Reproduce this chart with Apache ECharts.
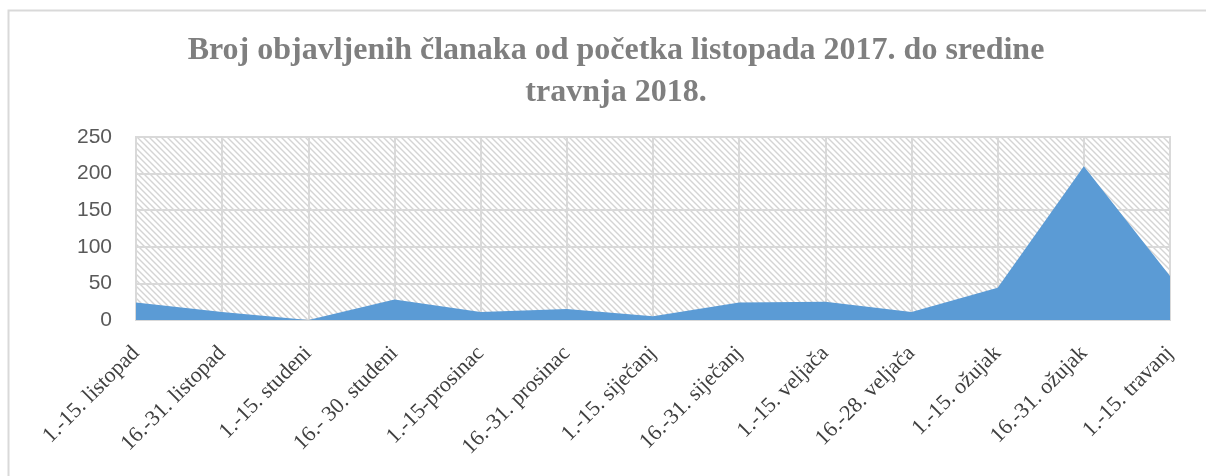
<!DOCTYPE html>
<html lang="hr">
<head>
  <meta charset="UTF-8">
  <title>Broj objavljenih članaka</title>
  <style>
    html, body { margin: 0; padding: 0; background: #fff; }
    #chart { width: 1206px; height: 476px; }
  </style>
</head>
<body>
  <div id="chart"></div>

  <script src="https://cdn.jsdelivr.net/npm/echarts@6/dist/echarts.min.js"></script>
  <script>
    // data
    var periods = [
      '1.-15. listopad', '16.-31. listopad', '1.-15. studeni', '16.- 30. studeni',
      '1.-15-prosinac', '16.-31. prosinac', '1.-15. siječanj', '16.-31. siječanj',
      '1.-15. veljača', '16.-28. veljača', '1.-15. ožujak', '16.-31. ožujak',
      '1.-15. travanj'
    ];
    var articles = [24, 11, 0, 28, 11, 15, 5, 24, 25, 11, 44, 210, 60];
    var yTicks = [0, 50, 100, 150, 200, 250];

    // diagonal hatch for the plot background
    function hatch() {
      var c = document.createElement('canvas');
      c.width = 6; c.height = 6;
      var ctx = c.getContext('2d');
      ctx.fillStyle = '#ffffff';
      ctx.fillRect(0, 0, 6, 6);
      ctx.strokeStyle = '#d4d4d4';
      ctx.lineWidth = 1.4;
      ctx.beginPath();
      ctx.moveTo(-1, -1); ctx.lineTo(7, 7);
      ctx.moveTo(-1, 5); ctx.lineTo(1, 7);
      ctx.moveTo(5, -1); ctx.lineTo(7, 1);
      ctx.stroke();
      return c;
    }

    var myChart = echarts.init(document.getElementById('chart'));

    var option = {
      backgroundColor: '#fff',
      animation: false,
      title: {
        text: 'Broj objavljenih članaka od početka listopada 2017. do sredine\ntravnja 2018.',
        left: 611,
        textAlign: 'center',
        top: 25,
        textStyle: {
          fontFamily: 'Liberation Serif',
          fontWeight: 'bold',
          fontSize: 32,
          lineHeight: 42,
          color: '#7f7f7f'
        }
      },
      graphic: [{
        type: 'rect',
        shape: { x: 8.5, y: 10.5, width: 1220, height: 500 },
        style: { fill: null, stroke: '#d9d9d9', lineWidth: 2 },
        silent: true
      }],
      grid: {
        left: 136,
        right: 36,
        top: 137,
        bottom: 156,
        show: true,
        backgroundColor: { image: hatch(), repeat: 'repeat' },
        borderColor: '#d9d9d9',
        borderWidth: 2
      },
      xAxis: {
        type: 'category',
        data: periods,
        boundaryGap: false,
        axisLine: { lineStyle: { color: '#d9d9d9', width: 2 } },
        axisTick: { show: false },
        splitLine: { show: true, lineStyle: { color: '#d9d9d9', width: 2 } },
        axisLabel: {
          rotate: 45,
          interval: 0,
          margin: 30,
          fontFamily: 'Liberation Serif',
          fontSize: 22,
          color: '#404040'
        }
      },
      yAxis: {
        type: 'value',
        min: yTicks[0],
        max: yTicks[yTicks.length - 1],
        interval: yTicks[1] - yTicks[0],
        axisLine: { show: false },
        axisTick: { show: false },
        splitLine: { lineStyle: { color: '#d9d9d9', width: 2 } },
        axisLabel: {
          margin: 24,
          fontFamily: 'Liberation Sans',
          fontSize: 21,
          color: '#595959'
        }
      },
      series: [{
        name: 'Broj članaka',
        type: 'line',
        data: articles,
        symbol: 'none',
        lineStyle: { width: 0 },
        areaStyle: { color: '#5b9bd5', opacity: 1 },
        z: 3
      }]
    };

    myChart.setOption(option);
  </script>
</body>
</html>
